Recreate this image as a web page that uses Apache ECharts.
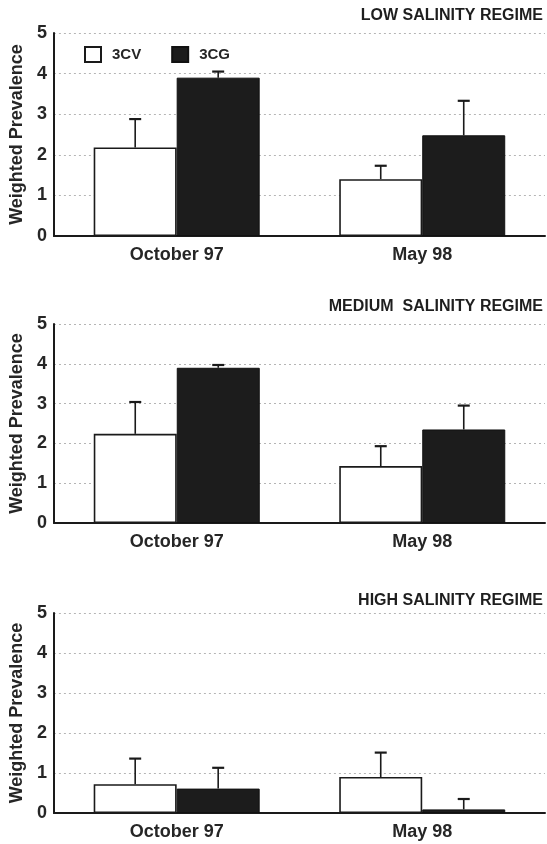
<!DOCTYPE html>
<html>
<head>
<meta charset="utf-8">
<script src="https://cdn.jsdelivr.net/npm/echarts@6/dist/echarts.min.js"></script>
<style>
  html, body { margin: 0; padding: 0; background: #fff; }
  #chart { width: 547px; height: 844px; }
</style>
</head>
<body>
<div id="chart"></div>
<script>
// --- data ---
const categories = ['October 97', 'May 98'];
const seriesNames = ['3CV', '3CG'];
const panelTitles = ['LOW SALINITY REGIME', 'MEDIUM  SALINITY REGIME', 'HIGH SALINITY REGIME'];
const yTicks = [0, 1, 2, 3, 4, 5];

// means
const lowCV  = [2.18, 1.40];
const lowCG  = [3.90, 2.48];
const medCV  = [2.24, 1.43];
const medCG  = [3.90, 2.35];
const highCV = [0.72, 0.90];
const highCG = [0.61, 0.09];

// upper error (SD)
const lowCVsd  = [0.70, 0.33];
const lowCGsd  = [0.15, 0.85];
const medCVsd  = [0.80, 0.50];
const medCGsd  = [0.07, 0.60];
const highCVsd = [0.64, 0.61];
const highCGsd = [0.52, 0.26];

const panels = [
  { cv: lowCV,  cg: lowCG,  cvSd: lowCVsd,  cgSd: lowCGsd },
  { cv: medCV,  cg: medCG,  cvSd: medCVsd,  cgSd: medCGsd },
  { cv: highCV, cg: highCG, cvSd: highCVsd, cgSd: highCGsd }
];

// --- layout ---
const grids = [
  { left: 52, right: 2, top: 33,  height: 203 },
  { left: 54, right: 2, top: 324, height: 199 },
  { left: 52, right: 2, top: 613, height: 200 }
];
const titleTops = [8, 299, 593];
const BAR_W = 83;
const font = 'Liberation Sans, Arial, sans-serif';

const chart = echarts.init(document.getElementById('chart'));

function errorBar(offset) {
  return function (params, api) {
    const cat = api.value(0);
    const mean = api.value(1);
    const sd = api.value(2);
    const p0 = api.coord([cat, mean]);
    const p1 = api.coord([cat, mean + sd]);
    const x = p0[0] + offset;
    return {
      type: 'group',
      children: [
        { type: 'line', shape: { x1: x, y1: p0[1], x2: x, y2: p1[1] },
          style: { stroke: '#1a1a1a', lineWidth: 1.6 } },
        { type: 'line', shape: { x1: x - 6, y1: p1[1], x2: x + 6, y2: p1[1] },
          style: { stroke: '#1a1a1a', lineWidth: 2.2 } }
      ]
    };
  };
}

const xAxes = [], yAxes = [], series = [], titles = [];
panels.forEach((p, i) => {
  titles.push({
    text: panelTitles[i], right: 4, top: titleTops[i], padding: 0,
    textStyle: { fontFamily: font, fontSize: 16, fontWeight: 'bold', color: '#1e1e1e' }
  });
  xAxes.push({
    gridIndex: i, type: 'category', data: categories,
    axisLine: { lineStyle: { color: '#1a1a1a', width: 2 } },
    axisTick: { show: false },
    axisLabel: { fontFamily: font, fontSize: 18, fontWeight: 'bold', color: '#262626', margin: 10 }
  });
  yAxes.push({
    gridIndex: i, type: 'value', min: yTicks[0], max: yTicks[yTicks.length - 1], interval: 1,
    name: 'Weighted Prevalence', nameLocation: 'middle', nameGap: 26,
    nameTextStyle: { fontFamily: font, fontSize: 18, fontWeight: 'bold', color: '#262626' },
    axisLine: { show: true, lineStyle: { color: '#1a1a1a', width: 2 } },
    axisTick: { show: false },
    axisLabel: { fontFamily: font, fontSize: 18, fontWeight: 'bold', color: '#262626', margin: 7 },
    splitLine: { show: true, lineStyle: { color: '#b5b5b5', width: 1, type: [2, 3] } }
  });
  series.push({
    name: seriesNames[0], type: 'bar', xAxisIndex: i, yAxisIndex: i,
    barWidth: BAR_W, barGap: '0%', data: p.cv,
    itemStyle: { color: '#ffffff', borderColor: '#1a1a1a', borderWidth: 1.6 }
  });
  series.push({
    name: seriesNames[1], type: 'bar', xAxisIndex: i, yAxisIndex: i,
    barWidth: BAR_W, barGap: '0%', data: p.cg,
    itemStyle: { color: '#1c1c1c', borderColor: '#111', borderWidth: 1 }
  });
  series.push({
    type: 'custom', xAxisIndex: i, yAxisIndex: i, z: 5,
    renderItem: errorBar(-BAR_W / 2),
    data: p.cv.map((v, k) => [k, v, p.cvSd[k]])
  });
  series.push({
    type: 'custom', xAxisIndex: i, yAxisIndex: i, z: 5,
    renderItem: errorBar(BAR_W / 2),
    data: p.cg.map((v, k) => [k, v, p.cgSd[k]])
  });
});

chart.setOption({
  backgroundColor: '#ffffff',
  animation: false,
  title: titles,
  legend: {
    data: seriesNames, left: 84, top: 46, padding: 0, itemWidth: 16, itemHeight: 15, itemGap: 30,
    icon: 'rect',
    textStyle: { fontFamily: font, fontSize: 15, fontWeight: 'bold', color: '#262626', padding: [0, 0, 0, 6] }
  },
  grid: grids,
  xAxis: xAxes,
  yAxis: yAxes,
  series: series
});
</script>
</body>
</html>
